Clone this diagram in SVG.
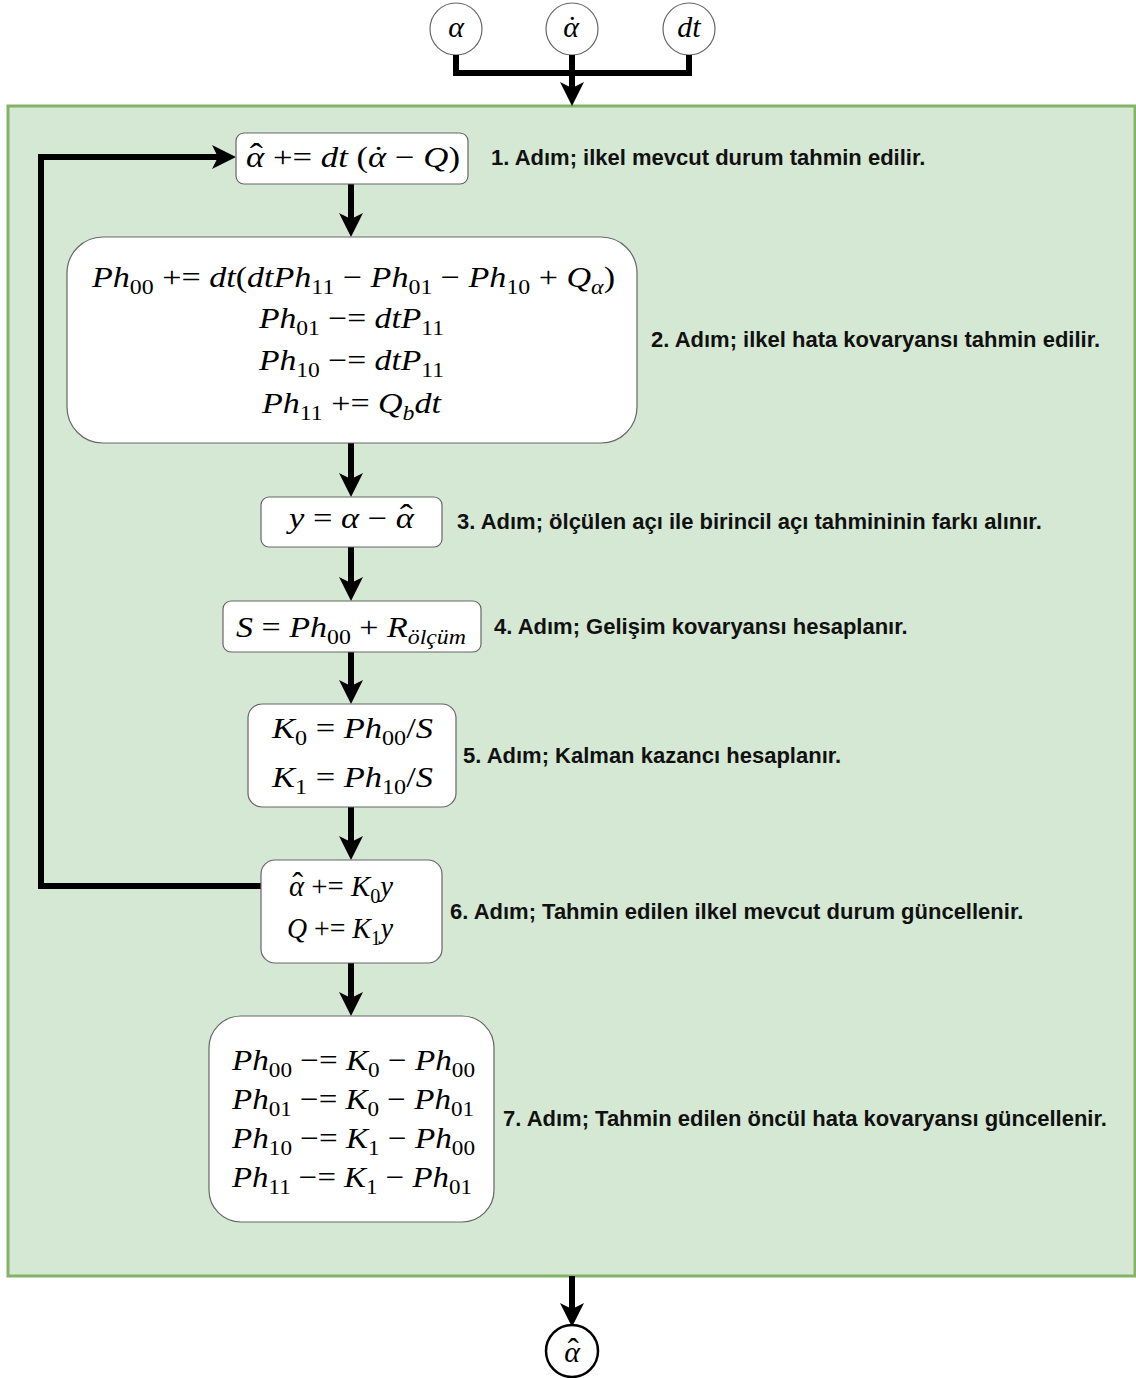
<svg xmlns="http://www.w3.org/2000/svg" width="1136" height="1378" viewBox="0 0 1136 1378">
  <style>
    .panel { fill: #d5e8d4; stroke: #82b366; stroke-width: 3; }
    .box { fill: #ffffff; stroke: #666666; stroke-width: 1.2; }
    .inp { fill: #ffffff; stroke: #666666; stroke-width: 1.2; }
    .out { fill: #ffffff; stroke: #000000; stroke-width: 2.5; }
    .wire { fill: none; stroke: #000000; stroke-width: 6; stroke-linejoin: miter; }
    .m { font-family: "Liberation Serif", "DejaVu Serif", serif; font-size: 30px; font-style: italic; fill: #000; }
    .o { font-style: normal; }
    .sb { font-size: 21px; font-style: normal; }
    .si { font-size: 21px; font-style: italic; }
    .hat { font-size: 34px; font-style: normal; }
    .dot { font-size: 30px; font-style: normal; }
    .lbl { font-family: "Liberation Sans", Arial, sans-serif; font-size: 22px; font-weight: bold; fill: #111; }
  </style>
  <defs>
    <marker id="head" viewBox="0 0 24 24" markerWidth="24" markerHeight="24" refX="6" refY="12" orient="auto" markerUnits="userSpaceOnUse">
      <path d="M0,0 L24,12 L0,24 L6,12 z" fill="#000"/>
    </marker>
  </defs>

  <!-- filter body -->
  <rect id="panel" class="panel" x="8" y="106" width="1127" height="1170"/>

  <!-- inputs -->
  <g id="in-alpha">
    <circle class="inp" cx="456" cy="29" r="26"/>
    <text class="m" x="456" y="37" text-anchor="middle">α</text>
  </g>
  <g id="in-alphadot">
    <circle class="inp" cx="572" cy="29" r="26"/>
    <text class="m" x="571" y="37" text-anchor="middle">α<tspan class="dot" dx="-11.75">˙</tspan><tspan dx="1.75"></tspan></text>
  </g>
  <g id="in-dt">
    <circle class="inp" cx="689" cy="29" r="26"/>
    <text class="m" x="689" y="37" text-anchor="middle">dt</text>
  </g>

  <!-- connectors -->
  <g id="connectors">
    <path class="wire" d="M456,55 V73 H689 V55"/>
    <path class="wire" d="M572,55 V88" marker-end="url(#head)"/>
    <path class="wire" d="M351,184 V219" marker-end="url(#head)"/>
    <path class="wire" d="M351,443 V479" marker-end="url(#head)"/>
    <path class="wire" d="M351,547 V583" marker-end="url(#head)"/>
    <path class="wire" d="M351,652 V686" marker-end="url(#head)"/>
    <path class="wire" d="M351,807 V842" marker-end="url(#head)"/>
    <path class="wire" d="M351,963 V998" marker-end="url(#head)"/>
    <path class="wire" d="M261,886 H41 V157 H218" marker-end="url(#head)"/>
    <path class="wire" d="M572,1276 V1309" marker-end="url(#head)"/>
  </g>

  <!-- step 1 -->
  <g id="step1">
    <rect class="box" x="236" y="133" width="232" height="51" rx="8"/>
    <text class="m" x="246" y="167" textLength="214" lengthAdjust="spacingAndGlyphs">α<tspan class="hat" dx="-12.4">ˆ</tspan><tspan class="o" dx="1.1"> += </tspan><tspan class="o"> </tspan>dt<tspan class="o"> (</tspan>α<tspan class="dot" dx="-11.75">˙</tspan><tspan class="o" dx="1.75"> − </tspan>Q<tspan class="o">)</tspan></text>
    <text class="lbl" x="491" y="165">1. Adım; ilkel mevcut durum tahmin edilir.</text>
  </g>

  <!-- step 2 -->
  <g id="step2">
    <rect class="box" x="67" y="237" width="570" height="206" rx="36"/>
    <text class="m" x="92" y="287" textLength="523" lengthAdjust="spacingAndGlyphs">Ph<tspan class="sb" dy="7">00</tspan><tspan class="o" dy="-7"> += </tspan>dt<tspan class="o">(</tspan>dtPh<tspan class="sb" dy="7">11</tspan><tspan class="o" dy="-7"> − </tspan>Ph<tspan class="sb" dy="7">01</tspan><tspan class="o" dy="-7"> − </tspan>Ph<tspan class="sb" dy="7">10</tspan><tspan class="o" dy="-7"> + </tspan>Q<tspan class="si" dy="7">α</tspan><tspan class="o" dy="-7">)</tspan></text>
    <text class="m" x="259" y="328" textLength="185" lengthAdjust="spacingAndGlyphs">Ph<tspan class="sb" dy="7">01</tspan><tspan class="o" dy="-7"> −= </tspan>dtP<tspan class="sb" dy="7">11</tspan></text>
    <text class="m" x="259" y="370" textLength="185" lengthAdjust="spacingAndGlyphs">Ph<tspan class="sb" dy="7">10</tspan><tspan class="o" dy="-7"> −= </tspan>dtP<tspan class="sb" dy="7">11</tspan></text>
    <text class="m" x="262" y="413" textLength="179" lengthAdjust="spacingAndGlyphs">Ph<tspan class="sb" dy="7">11</tspan><tspan class="o" dy="-7"> += </tspan>Q<tspan class="si" dy="7">b</tspan><tspan dy="-7">dt</tspan></text>
    <text class="lbl" x="651" y="347">2. Adım; ilkel hata kovaryansı tahmin edilir.</text>
  </g>

  <!-- step 3 -->
  <g id="step3">
    <rect class="box" x="261" y="497" width="181" height="50" rx="8"/>
    <text class="m" x="289" y="528" textLength="125" lengthAdjust="spacingAndGlyphs">y<tspan class="o"> = </tspan>α<tspan class="o"> − </tspan>α<tspan class="hat" dx="-12.4">ˆ</tspan></text>
    <text class="lbl" x="457" y="529">3. Adım; ölçülen açı ile birincil açı tahmininin farkı alınır.</text>
  </g>

  <!-- step 4 -->
  <g id="step4">
    <rect class="box" x="223" y="601" width="258" height="51" rx="8"/>
    <text class="m" x="236" y="637" textLength="230" lengthAdjust="spacingAndGlyphs">S<tspan class="o"> = </tspan>Ph<tspan class="sb" dy="7">00</tspan><tspan class="o" dy="-7"> + </tspan>R<tspan class="si" dy="7">ölçüm</tspan></text>
    <text class="lbl" x="494" y="634">4. Adım; Gelişim kovaryansı hesaplanır.</text>
  </g>

  <!-- step 5 -->
  <g id="step5">
    <rect class="box" x="248" y="704" width="208" height="103" rx="14"/>
    <text class="m" x="272" y="738" textLength="161" lengthAdjust="spacingAndGlyphs">K<tspan class="sb" dy="7">0</tspan><tspan class="o" dy="-7"> = </tspan>Ph<tspan class="sb" dy="7">00</tspan><tspan class="o" dy="-7">/</tspan>S</text>
    <text class="m" x="272" y="787" textLength="161" lengthAdjust="spacingAndGlyphs">K<tspan class="sb" dy="7">1</tspan><tspan class="o" dy="-7"> = </tspan>Ph<tspan class="sb" dy="7">10</tspan><tspan class="o" dy="-7">/</tspan>S</text>
    <text class="lbl" x="463" y="763">5. Adım; Kalman kazancı hesaplanır.</text>
  </g>

  <!-- step 6 -->
  <g id="step6">
    <rect class="box" x="261" y="860" width="181" height="103" rx="14"/>
    <text class="m" x="289" y="896" textLength="104" lengthAdjust="spacingAndGlyphs">α<tspan class="hat" dx="-12.4">ˆ</tspan><tspan class="o" dx="1.1"> += </tspan>K<tspan class="sb" dy="7">0</tspan><tspan dy="-7">y</tspan></text>
    <text class="m" x="287" y="938" textLength="106" lengthAdjust="spacingAndGlyphs">Q<tspan class="o"> += </tspan>K<tspan class="sb" dy="7">1</tspan><tspan dy="-7">y</tspan></text>
    <text class="lbl" x="450" y="919">6. Adım; Tahmin edilen ilkel mevcut durum güncellenir.</text>
  </g>

  <!-- step 7 -->
  <g id="step7">
    <rect class="box" x="209" y="1016" width="285" height="206" rx="32"/>
    <text class="m" x="232" y="1070" textLength="243" lengthAdjust="spacingAndGlyphs">Ph<tspan class="sb" dy="7">00</tspan><tspan class="o" dy="-7"> −= </tspan>K<tspan class="sb" dy="7">0</tspan><tspan class="o" dy="-7"> − </tspan>Ph<tspan class="sb" dy="7">00</tspan></text>
    <text class="m" x="232" y="1109" textLength="242" lengthAdjust="spacingAndGlyphs">Ph<tspan class="sb" dy="7">01</tspan><tspan class="o" dy="-7"> −= </tspan>K<tspan class="sb" dy="7">0</tspan><tspan class="o" dy="-7"> − </tspan>Ph<tspan class="sb" dy="7">01</tspan></text>
    <text class="m" x="232" y="1148" textLength="243" lengthAdjust="spacingAndGlyphs">Ph<tspan class="sb" dy="7">10</tspan><tspan class="o" dy="-7"> −= </tspan>K<tspan class="sb" dy="7">1</tspan><tspan class="o" dy="-7"> − </tspan>Ph<tspan class="sb" dy="7">00</tspan></text>
    <text class="m" x="232" y="1187" textLength="240" lengthAdjust="spacingAndGlyphs">Ph<tspan class="sb" dy="7">11</tspan><tspan class="o" dy="-7"> −= </tspan>K<tspan class="sb" dy="7">1</tspan><tspan class="o" dy="-7"> − </tspan>Ph<tspan class="sb" dy="7">01</tspan></text>
    <text class="lbl" x="503" y="1126">7. Adım; Tahmin edilen öncül hata kovaryansı güncellenir.</text>
  </g>

  <!-- output -->
  <g id="out-alphahat">
    <circle class="out" cx="572" cy="1351" r="26"/>
    <text class="m" x="572" y="1362" text-anchor="middle">α<tspan class="hat" dx="-12.4">ˆ</tspan><tspan dx="1.1"></tspan></text>
  </g>
</svg>
